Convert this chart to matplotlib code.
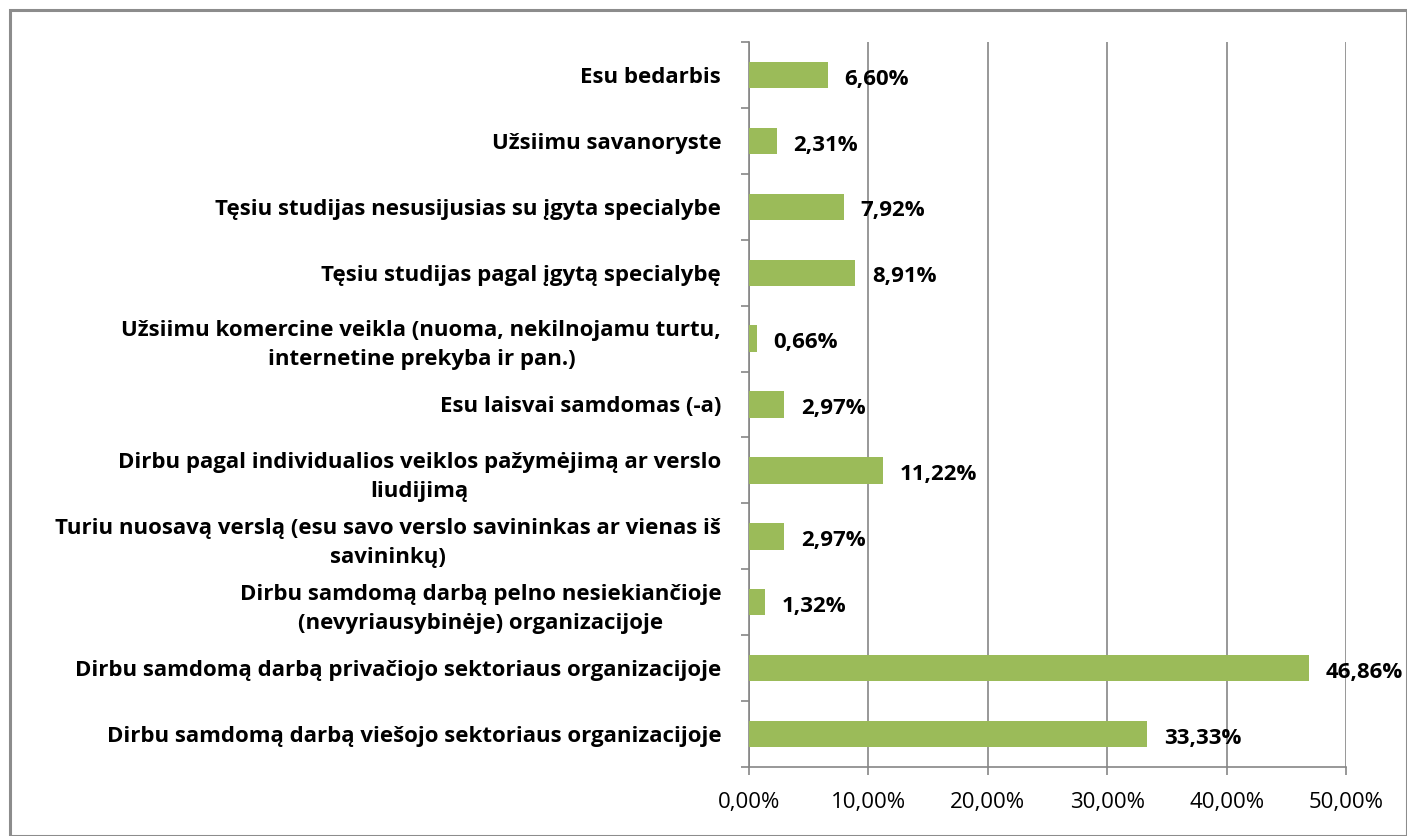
import matplotlib
matplotlib.use("Agg")
import matplotlib.pyplot as plt
from matplotlib.patches import Rectangle

categories = [
    "Dirbu samdomą darbą viešojo sektoriaus organizacijoje",
    "Dirbu samdomą darbą privačiojo sektoriaus organizacijoje",
    "Dirbu samdomą darbą pelno nesiekiančioje\n(nevyriausybinėje) organizacijoje",
    "Turiu nuosavą verslą (esu savo verslo savininkas ar vienas iš\nsavininkų)",
    "Dirbu pagal individualios veiklos pažymėjimą ar verslo\nliudijimą",
    "Esu laisvai samdomas (-a)",
    "Užsiimu komercine veikla (nuoma, nekilnojamu turtu,\ninternetine prekyba ir pan.)",
    "Tęsiu studijas pagal įgytą specialybę",
    "Tęsiu studijas nesusijusias su įgyta specialybe",
    "Užsiimu savanoryste",
    "Esu bedarbis",
]
values = [33.33, 46.86, 1.32, 2.97, 11.22, 2.97, 0.66, 8.91, 7.92, 2.31, 6.60]
xticks = [0, 10, 20, 30, 40, 50]

plt.rcParams['font.family'] = ['Open Sans', 'DejaVu Sans']
W, H = 1407, 836
fig = plt.figure(figsize=(W / 100, H / 100), dpi=100)
ax = fig.add_axes([749 / W, 1 - 767 / H, (1346 - 749) / W, (767 - 42) / H])

grey = '#868686'
fs = 16
ypos = list(range(len(categories)))
ax.barh(ypos, values, height=0.4, color='#9BBB59', zorder=3)
for y, v in zip(ypos, values):
    ax.annotate(f"{v:.2f}".replace('.', ',') + '%', (v, y), xytext=(12, -3),
                textcoords='offset points', ha='left', va='center',
                fontsize=fs, fontweight='bold', color='black', zorder=4)

ax.set_xlim(0, 50)
ax.set_ylim(-0.5, len(categories) - 0.5)
ax.set_xticks(xticks)
ax.set_xticklabels([f"{t:.2f}".replace('.', ',') + '%' for t in xticks], fontsize=fs)
ax.set_yticks(ypos)
ax.set_yticklabels(categories, fontsize=fs, fontweight='bold', multialignment='center',
                   linespacing=1.5)
ax.set_yticks([i - 0.5 for i in range(len(categories) + 1)], minor=True)
ax.tick_params(axis='y', which='major', length=0, pad=20)
ax.tick_params(axis='y', which='minor', length=6, color=grey, width=1.2)
ax.tick_params(axis='x', length=6, color=grey, width=1.2, pad=12)
ax.grid(axis='x', color=grey, linewidth=1.2, zorder=0)
for s in ['top', 'right']:
    ax.spines[s].set_visible(False)
for s in ['left', 'bottom']:
    ax.spines[s].set_color(grey)
    ax.spines[s].set_linewidth(1.2)

fig.patches.append(Rectangle((10 / W, 0), (W - 10) / W, (H - 10) / H, transform=fig.transFigure,
                             fill=False, edgecolor='#8c8c8c', linewidth=2.2))
fig.savefig('out.png', dpi=100)
